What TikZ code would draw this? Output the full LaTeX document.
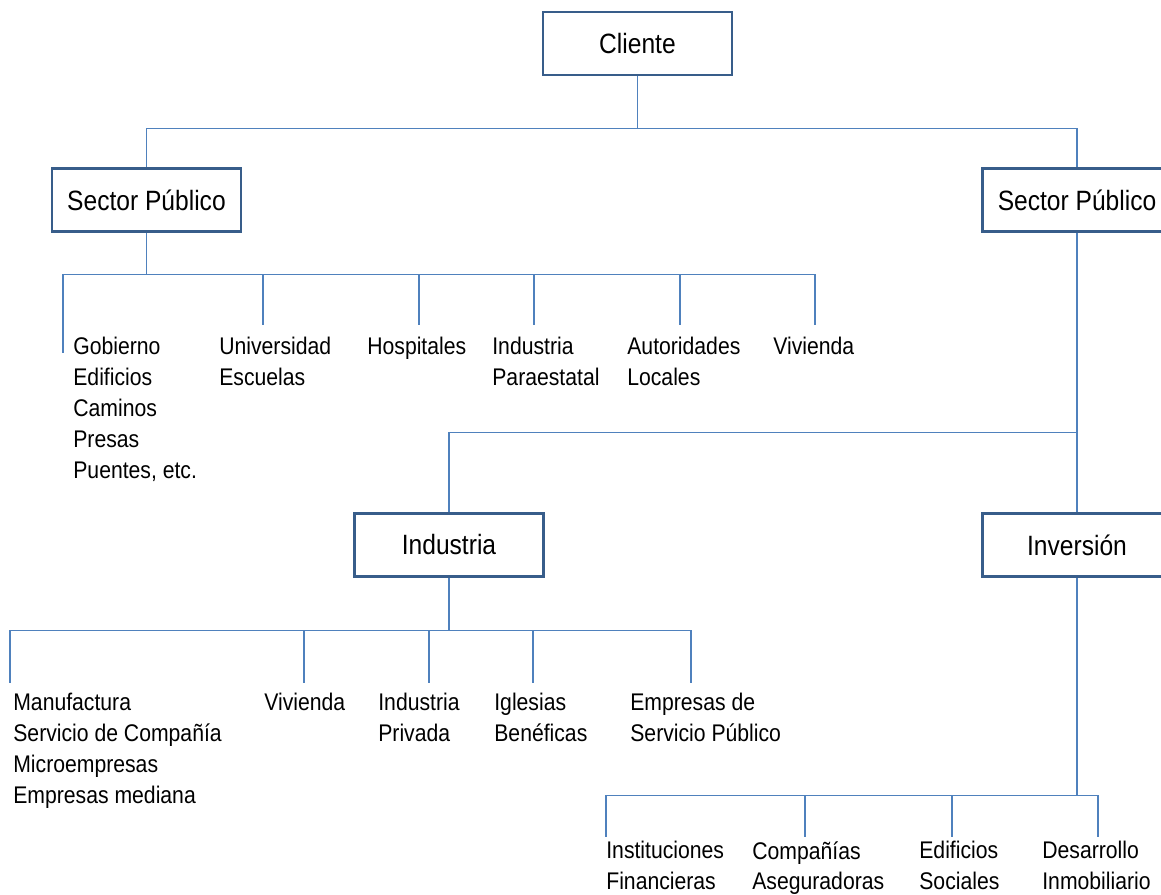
\documentclass[tikz,border=0pt]{standalone}
\usepackage{fontspec}
\setmainfont{Liberation Sans}[FakeStretch=0.88]
\usepackage{tikz}
\definecolor{orgline}{RGB}{79,129,189}
\definecolor{orgbox}{RGB}{56,93,138}

\begin{document}
\begin{tikzpicture}[x=0.02cm, y=-0.02cm,
  box/.style={draw=orgbox, line width=1.4pt, fill=white, minimum width=3.78cm,
    minimum height=1.26cm, inner sep=0pt, font=\fontsize{15.9}{19}\selectfont},
  item/.style={anchor=north west, inner sep=0pt, align=left,
    font=\fontsize{13.7}{17.6}\selectfont},
  link/.style={draw=orgline, line width=0.75pt}]
\useasboundingbox (0,0) rectangle (1161,895);

% Boxes
\node[box] (cliente) at (637.5,43.5) {Cliente};
\node[box] (spL) at (146.5,200) {Sector Público};
\node[box] (spR) at (1077,200) {Sector Público};
\node[box] (ind) at (449,545) {Industria};
\node[box] (inv) at (1077,545) {Inversión};

% Sector Publico (left)
\node[item] (gob) at (73,337) {Gobierno\\Edificios\\Caminos\\Presas\\Puentes, etc.};
\node[item] (uni) at (219,337) {Universidad\\Escuelas};
\node[item] (hos) at (367,337) {Hospitales};
\node[item] (ipa) at (492,337) {Industria\\Paraestatal};
\node[item] (aut) at (627,337) {Autoridades\\Locales};
\node[item] (viv1) at (773,337) {Vivienda};

% Industria
\node[item] (man) at (13,693) {Manufactura\\Servicio de Compañía\\Microempresas\\Empresas mediana};
\node[item] (viv2) at (264,693) {Vivienda};
\node[item] (ipr) at (378,693) {Industria\\Privada};
\node[item] (igl) at (494,693) {Iglesias\\Benéficas};
\node[item] (emp) at (630,693) {Empresas de\\Servicio Público};

% Inversion
\node[item] (ins) at (606,841) {Instituciones\\Financieras};
\node[item] (com) at (752,841) {Compañías\\Aseguradoras};
\node[item] (edi) at (919,841) {Edificios\\Sociales};
\node[item] (des) at (1042,841) {Desarrollo\\Inmobiliario};

% Connectors
\draw[link] (cliente.south) -- ++(0,52) coordinate (busC);
\draw[link] (busC) -| (spL.north);
\draw[link] (busC) -| (spR.north);
\draw[link] (spR.south) -- (inv.north);
\draw[link] (spR.south) -- ++(0,200) -| (ind.north);

\draw[link] (spL.south) -- ++(0,42) coordinate (busL);
\draw[link] (busL) -| ([shift={(-10,16)}]gob.north west);
\foreach \n/\dx in {uni/44, hos/52, ipa/42, aut/53, viv1/42}
  \draw[link] (busL) -| ([shift={(\dx,-12)}]\n.north west);

\draw[link] (ind.south) -- ++(0,53) coordinate (busI);
\foreach \n/\dx in {man/-3, viv2/40, ipr/51, igl/39, emp/61}
  \draw[link] (busI) -| ([shift={(\dx,-10)}]\n.north west);

\draw[link] (inv.south) -- ++(0,218) coordinate (busV);
\foreach \n/\dx in {ins/0, com/53, edi/33, des/56}
  \draw[link] (busV) -| ([shift={(\dx,-4)}]\n.north west);
\end{tikzpicture}
\end{document}
